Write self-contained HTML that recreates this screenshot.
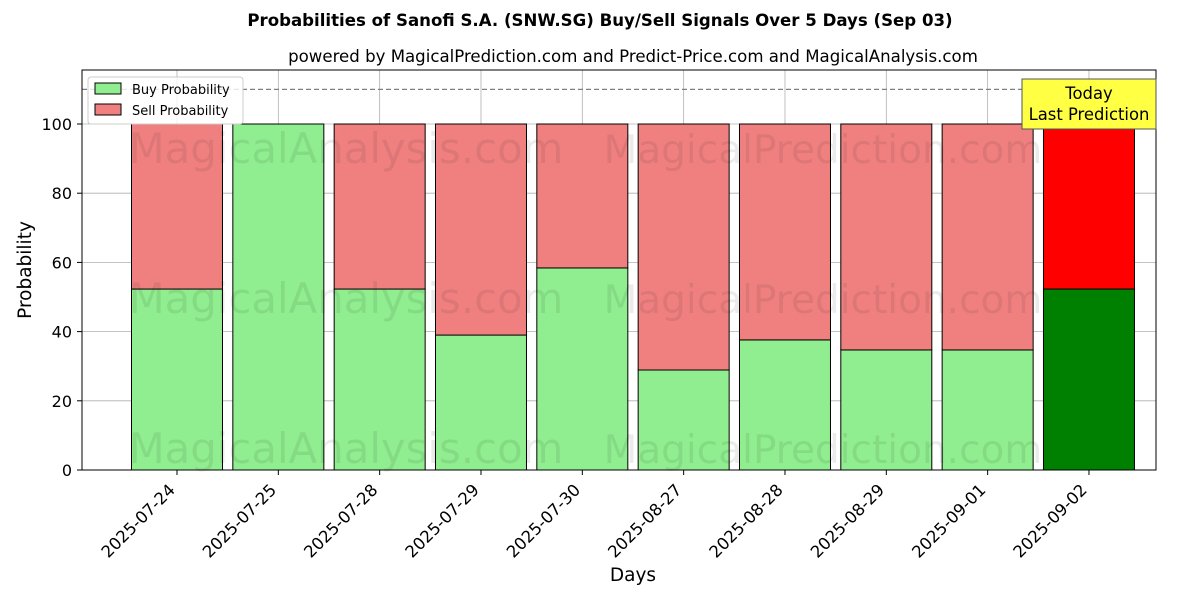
<!DOCTYPE html>
<html><head><meta charset="utf-8"><style>body{margin:0;background:#fff}svg{display:block;font-family:"DejaVu Sans","Liberation Sans",sans-serif}</style></head>
<body>
<svg id="chart" width="1200" height="600" viewBox="0 0 1200 600">
<text x="600" y="26" text-anchor="middle" font-size="16.6" font-weight="bold">Probabilities of Sanofi S.A. (SNW.SG) Buy/Sell Signals Over 5 Days (Sep 03)</text>
<text x="633" y="62" text-anchor="middle" font-size="16.6">powered by MagicalPrediction.com and Predict-Price.com and MagicalAnalysis.com</text>
<g id="grid"></g>
<g id="bars"></g>
<g id="wm" fill="#000" fill-opacity="0.08">
<text x="346" y="163" text-anchor="middle" font-size="41.8">MagicalAnalysis.com</text>
<text x="823" y="163" text-anchor="middle" font-size="39">MagicalPrediction.com</text>
<text x="346" y="313" text-anchor="middle" font-size="41.8">MagicalAnalysis.com</text>
<text x="823" y="313" text-anchor="middle" font-size="39">MagicalPrediction.com</text>
<text x="346" y="463" text-anchor="middle" font-size="41.8">MagicalAnalysis.com</text>
<text x="823" y="463" text-anchor="middle" font-size="39">MagicalPrediction.com</text>
</g>
<line x1="82" x2="1156" y1="89.4" y2="89.4" stroke="#808080" stroke-width="1.3" stroke-dasharray="5,3"/>
<rect x="82" y="70" width="1074" height="400" fill="none" stroke="#000" stroke-width="1"/>
<g id="ticks"></g>
<text x="31" y="270" text-anchor="middle" font-size="18.5" transform="rotate(-90 31 270)">Probability</text>
<text x="633" y="581" text-anchor="middle" font-size="18.5">Days</text>
<g>
<rect x="88" y="77" width="155" height="47" fill="#fff" fill-opacity="0.8" stroke="#ccc" rx="3"/>
<rect x="95" y="83" width="26" height="11" fill="#90ee90" stroke="#000"/>
<text x="132" y="94" font-size="13">Buy Probability</text>
<rect x="95" y="104" width="26" height="11" fill="#f08080" stroke="#000"/>
<text x="132" y="115" font-size="13">Sell Probability</text>
</g>
<g>
<rect x="1022" y="79" width="134" height="50" fill="#ffff44" stroke="#555"/>
<text x="1089" y="99" text-anchor="middle" font-size="16.4">Today</text>
<text x="1089" y="120" text-anchor="middle" font-size="16.4">Last Prediction</text>
</g>
</svg>
<script>
const dates=["2025-07-24","2025-07-25","2025-07-28","2025-07-29","2025-07-30","2025-08-27","2025-08-28","2025-08-29","2025-09-01","2025-09-02"];
const buyValues=[52.3,100,52.3,39.0,58.4,28.9,37.6,34.7,34.7,52.3];
const yTicks=[0,20,40,60,80,100];
const NS="http://www.w3.org/2000/svg";
const y=v=>470-v*3.46;
const x=i=>177+i*101.33;
const bw=91;
function mk(tag,attrs,parent){const e=document.createElementNS(NS,tag);for(const k in attrs)e.setAttribute(k,attrs[k]);parent.appendChild(e);return e;}
const grid=document.getElementById('grid'),bars=document.getElementById('bars'),ticks=document.getElementById('ticks');
yTicks.forEach(t=>{
 const g=mk('line',{x1:82,x2:1156,y1:y(t),y2:y(t),stroke:'#b0b0b0','stroke-width':0.8},grid);
 
 
 mk('line',{x1:77,x2:82,y1:y(t),y2:y(t),stroke:'#000'},ticks);
 const tx=mk('text',{x:72,y:y(t)+6,'text-anchor':'end','font-size':16},ticks);tx.textContent=t;
 
 
});
dates.forEach((d,i)=>{
 const cx=x(i);
 const gl=mk('line',{x1:cx,x2:cx,y1:70,y2:470,stroke:'#b0b0b0','stroke-width':0.8},grid);
 
 
 const last=i===dates.length-1;
 const b=buyValues[i];
 const rb=mk('rect',{x:cx-bw/2,y:y(b),width:bw,height:y(0)-y(b),fill:last?'#008000':'#90ee90',stroke:'#000','stroke-width':1},bars);
 
 
 const rs=mk('rect',{x:cx-bw/2,y:y(100),width:bw,height:y(b)-y(100),fill:last?'#ff0000':'#f08080',stroke:'#000','stroke-width':1},bars);
 
 
 mk('line',{x1:cx,x2:cx,y1:470,y2:475,stroke:'#000'},ticks);
 const tx=mk('text',{x:cx-1,y:491,'text-anchor':'end','font-size':16.5,transform:`rotate(-45 ${cx-1} 491)`},ticks);tx.textContent=d;
 
 
});
</script>
</body></html>
